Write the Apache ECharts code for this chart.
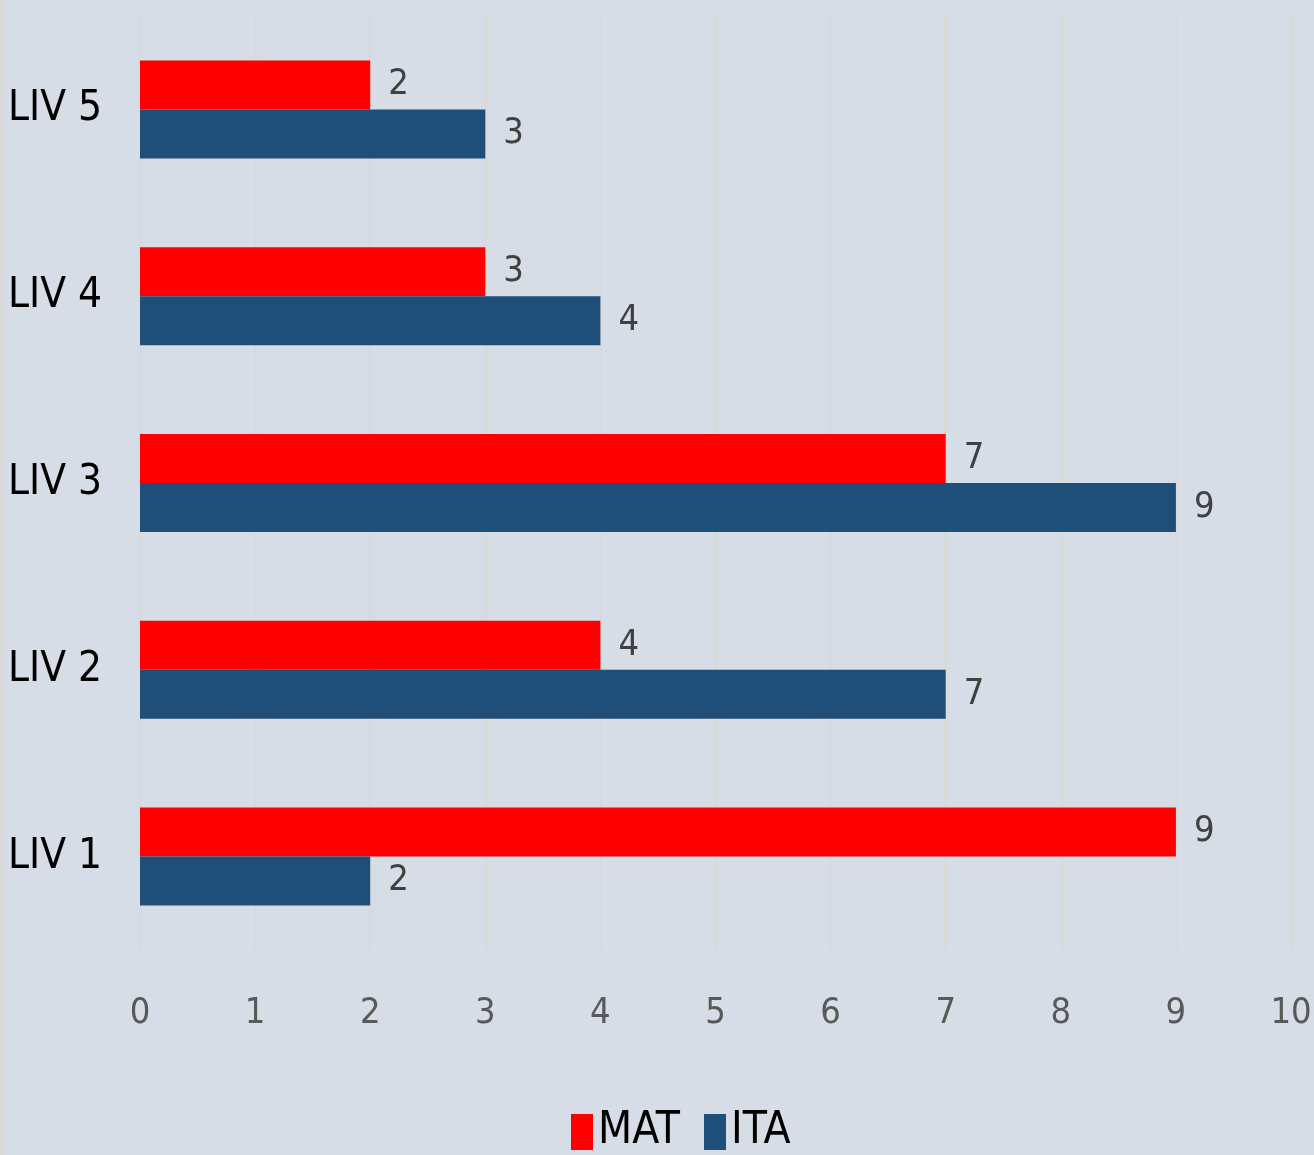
<!DOCTYPE html>
<html>
<head>
<meta charset="utf-8">
<script src="https://cdn.jsdelivr.net/npm/echarts@6/dist/echarts.min.js"></script>
<style>
  html, body { margin: 0; padding: 0; background: #d6dde6; }
  #chart { width: 1314px; height: 1155px; }
</style>
</head>
<body>
<div id="chart"></div>
<script>
// dati del grafico
const categories = ["LIV 1", "LIV 2", "LIV 3", "LIV 4", "LIV 5"];
const matValues = [9, 4, 7, 3, 2];
const itaValues = [2, 7, 9, 4, 3];
const xTicks = [0, 1, 2, 3, 4, 5, 6, 7, 8, 9, 10];

const font = '"DejaVu Sans Condensed", "Liberation Sans Narrow", sans-serif';

const chart = echarts.init(document.getElementById("chart"));
chart.setOption({
  backgroundColor: "#d6dde6",
  animation: false,
  graphic: [
    { type: "rect", left: 0, top: 0, shape: { width: 3, height: 1155 }, style: { fill: "#d9d9d9" } }
  ],
  grid: { left: 140, right: 23, top: 16, bottom: 205, containLabel: false, outerBoundsMode: "none" },
  legend: {
    data: ["MAT", "ITA"],
    bottom: -4,
    left: 566,
    icon: "rect",
    itemWidth: 22,
    itemHeight: 36,
    itemGap: 24,
    textStyle: { fontFamily: font, fontSize: 44, color: "#000", padding: [0, 0, 0, 0] }
  },
  xAxis: {
    type: "value",
    min: 0,
    max: 10,
    interval: 1,
    axisLine: { show: false },
    axisTick: { show: false },
    splitLine: { lineStyle: { color: "#d9d9d9", width: 3 } },
    axisLabel: {
      margin: 46,
      color: "#595959",
      fontFamily: font,
      fontSize: 36,
      formatter: v => (xTicks.indexOf(v) >= 0 ? String(v) : "")
    }
  },
  yAxis: {
    type: "category",
    data: categories,
    axisLine: { show: false },
    axisTick: { show: false },
    axisLabel: { margin: 38, color: "#000", fontFamily: font, fontSize: 42 }
  },
  series: [
    {
      name: "MAT",
      type: "bar",
      data: matValues,
      barWidth: 49,
      barGap: "0%",
      itemStyle: { color: "#ff0000" },
      label: { show: true, position: "right", distance: 18, color: "#404040", fontFamily: font, fontSize: 36 }
    },
    {
      name: "ITA",
      type: "bar",
      data: itaValues,
      barWidth: 49,
      barGap: "0%",
      itemStyle: { color: "#1f4e79" },
      label: { show: true, position: "right", distance: 18, color: "#404040", fontFamily: font, fontSize: 36 }
    }
  ]
});
</script>
</body>
</html>
